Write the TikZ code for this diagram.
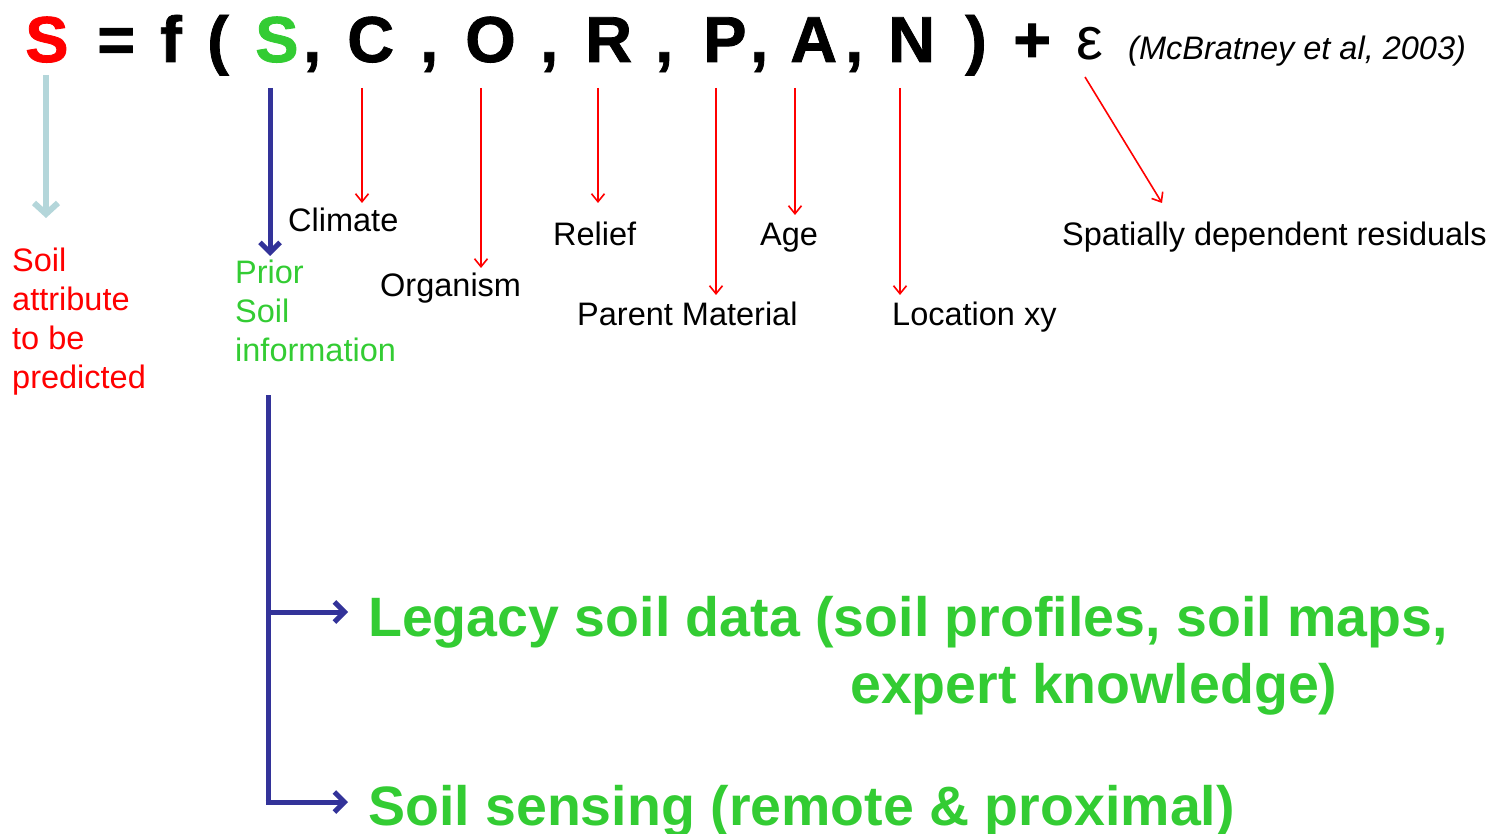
\documentclass[tikz,border=0pt]{standalone}
\usepackage{fontspec}
\setmainfont{Liberation Sans}
\newfontfamily\eqfont[FakeBold=1.2]{Liberation Sans Bold}
\usetikzlibrary{arrows.meta}
\definecolor{sred}{HTML}{FF0000}
\definecolor{sgreen}{HTML}{33CC33}
\definecolor{sblue}{HTML}{333399}
\definecolor{slight}{HTML}{B4D6DA}
\tikzset{
  eq/.style={anchor=base west, inner sep=0pt, font=\fontsize{65}{65}\eqfont},
  lbl/.style={anchor=base west, inner sep=0pt, font=\fontsize{32.5}{39}\selectfont},
  big/.style={anchor=base west, inner sep=0pt, font=\fontsize{55.5}{66}\selectfont\bfseries, text=sgreen},
  redarrow/.style={draw=sred, line width=1.6pt, -{Straight Barb[length=8pt,width=13pt]}},
  bluearrow/.style={draw=sblue, line width=5pt, -{Straight Barb[length=10pt,width=20pt]}},
}
\begin{document}
\begin{tikzpicture}[x=1pt,y=-1pt]
\useasboundingbox (0,0) rectangle (1499,834);
% equation
\node[eq,text=sred] (Sout) at (25,62) {S};
\node[eq] (eqs) at (97,62) {=};
\node[eq] (f) at (160,62) {f};
\node[eq] (lp) at (207,62) {(};
\node[eq,text=sgreen] (Sin) at (255,62) {S};
\node[eq] (c1) at (303,62) {,};
\node[eq] (C) at (347,62) {C};
\node[eq] (c2) at (420,62) {,};
\node[eq] (O) at (465,62) {O};
\node[eq] (c3) at (540,62) {,};
\node[eq] (R) at (585,62) {R};
\node[eq] (c4) at (655,62) {,};
\node[eq] (P) at (703,62) {P};
\node[eq] (c5) at (750,62) {,};
\node[eq] (A) at (790,62) {A};
\node[eq] (c6) at (845,62) {,};
\node[eq] (N) at (888,62) {N};
\node[eq] (rp) at (965,62) {)};
\node[eq] (plus) at (1013,62) {+};
\node[anchor=base west, inner sep=0pt, font=\fontsize{60}{60}\selectfont] (eps) at (1076,60) {ε};
\node[anchor=base west, inner sep=0pt, font=\fontsize{32.5}{39}\selectfont\itshape] (ref) at (1128,60) {(McBratney et al, 2003)};

% coordinates for arrows
\coordinate (lbA) at (46,75);
\coordinate (lbB) at (46,218);
\coordinate (dbA) at (270,88);
\coordinate (dbB) at (270,256);
\coordinate (cA) at (362,88);  \coordinate (cB) at (362,203);
\coordinate (oA) at (481,88);  \coordinate (oB) at (481,268);
\coordinate (rA) at (598,88);  \coordinate (rB) at (598,203);
\coordinate (pA) at (716,88);  \coordinate (pB) at (716,295);
\coordinate (aA) at (795,88);  \coordinate (aB) at (795,215);
\coordinate (nA) at (900,88);  \coordinate (nB) at (900,295);
\coordinate (eA) at (1085,77); \coordinate (eB) at (1162,203);

\draw[draw=slight, line width=6pt, -{Straight Barb[length=11pt,width=24pt]}] (lbA) -- (lbB);
\draw[bluearrow] (dbA) -- (dbB);
\draw[redarrow] (cA) -- (cB);
\draw[redarrow] (oA) -- (oB);
\draw[redarrow] (rA) -- (rB);
\draw[redarrow] (pA) -- (pB);
\draw[redarrow] (aA) -- (aB);
\draw[redarrow] (nA) -- (nB);
\draw[redarrow] (eA) -- (eB);

% labels
\node[lbl] (climate) at (288,232) {Climate};
\node[lbl] (relief) at (553,246) {Relief};
\node[lbl] (age) at (760,246) {Age};
\node[lbl] (resid) at (1062,246) {Spatially dependent residuals};
\node[lbl] (organism) at (380,297) {Organism};
\node[lbl] (parent) at (577,325) {Parent Material};
\node[lbl] (loc) at (892,325) {Location xy};

\node[lbl, text=sred, align=left, anchor=north west] (soilattr) at (12,248) {Soil\\attribute\\to be\\predicted};
\node[lbl, text=sgreen, align=left, anchor=north west] (prior) at (235,260) {Prior\\Soil\\information};

% bottom branch
\coordinate (vtop) at (268,395);
\coordinate (vbot) at (268,802);
\coordinate (vmid) at (268,612);
\coordinate (tip1) at (348,612);
\coordinate (tip2) at (348,802);
\node[big] (legacy) at (368,636) {Legacy soil data (soil profiles, soil maps,};
\node[big] (expert) at (850,703) {expert knowledge)};
\node[big] (sensing) at (368,825) {Soil sensing (remote \& proximal)};
\draw[draw=sblue, line width=5pt] (vtop) -- ([yshift=2.5pt]vbot);
\draw[bluearrow] (vmid) -- (tip1);
\draw[bluearrow] ([xshift=-2.5pt]vbot) -- (tip2);
\end{tikzpicture}
\end{document}
